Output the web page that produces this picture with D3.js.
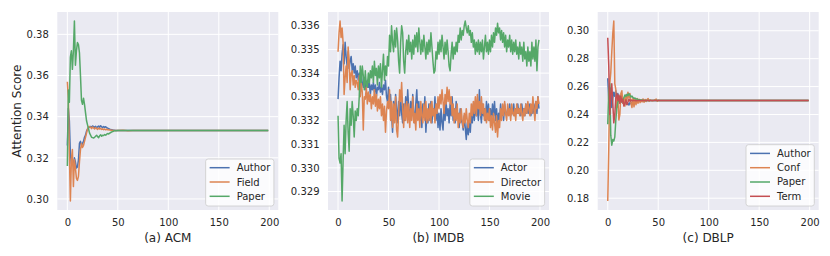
<!DOCTYPE html>
<html lang="en">
<head>
<meta charset="UTF-8"/>
<title>Attention Score per epoch</title>
<script src="https://d3js.org/d3.v7.min.js"></script>
<style>
	body { margin: 0; background: #ffffff; }
	text { font-family: "DejaVu Sans", sans-serif; fill: #262626; }
</style>
</head>
<body>
<script>
// ***Data*** (epoch, attention score)
var xTicks = [0, 50, 100, 150, 200];
var lastEpoch = 199;

// (a) ACM
var acmNames = ["Author", "Field", "Paper"];
var acmYTicks = [0.30, 0.32, 0.34, 0.36, 0.38];
var acmAuthor = [[0,0.326],[1,0.344],[2,0.338],[3,0.322],[4,0.317],[5,0.319],[6,0.316],[7,0.320],[8,0.318],[9,0.315],
	[10,0.3155],[11,0.319],[12,0.327],[13,0.328],[14,0.326],[15,0.327],[16,0.328],[17,0.330],[18,0.331],[19,0.333],
	[20,0.334],[21,0.3345],[22,0.335],[23,0.3352],[24,0.3348],[25,0.3355],[26,0.3352],[27,0.3348],[28,0.3353],[29,0.3346],
	[30,0.3351],[31,0.3354],[32,0.3349],[33,0.3356],[34,0.3350],[35,0.3347],[36,0.3352],[37,0.3348],[38,0.3351],[39,0.3346],
	[40,0.3344],[41,0.3341],[42,0.3339],[43,0.3338],[44,0.3336],[45,0.3335],[46,0.3334],[47,0.3334],[48,0.3333],[50,0.3333],[199,0.3333]];
var acmField = [[0,0.357],[1,0.349],[2,0.322],[3,0.299],[4,0.319],[5,0.324],[6,0.306],[7,0.319],[8,0.315],[9,0.310],
	[10,0.309],[11,0.311],[12,0.318],[13,0.324],[14,0.327],[15,0.325],[16,0.326],[17,0.328],[18,0.330],[19,0.332],
	[20,0.334],[21,0.335],[22,0.3352],[23,0.3348],[24,0.3342],[25,0.3350],[26,0.3345],[27,0.3340],[28,0.3347],[29,0.3342],
	[30,0.3338],[31,0.3345],[32,0.3340],[33,0.3343],[34,0.3338],[35,0.3341],[36,0.3337],[37,0.3340],[38,0.3336],[39,0.3339],
	[40,0.3336],[42,0.3335],[44,0.3334],[46,0.3333],[50,0.3333],[55,0.3334],[60,0.3332],[65,0.3333],[199,0.3333]];
var acmPaper = [[0,0.316],[1,0.353],[2,0.347],[3,0.369],[4,0.372],[5,0.363],[6,0.372],[7,0.3865],[8,0.365],[9,0.372],
	[10,0.376],[11,0.375],[12,0.371],[13,0.360],[14,0.348],[15,0.346],[16,0.349],[17,0.346],[18,0.342],[19,0.338],
	[20,0.336],[21,0.334],[22,0.332],[23,0.331],[24,0.330],[25,0.3298],[26,0.3296],[27,0.3300],[28,0.3305],[29,0.3310],
	[30,0.3303],[31,0.3298],[32,0.3307],[33,0.3312],[34,0.3305],[35,0.3310],[36,0.3308],[37,0.3313],[38,0.3310],[39,0.3315],
	[40,0.3318],[41,0.3316],[42,0.3320],[43,0.3323],[44,0.3326],[45,0.3328],[46,0.3330],[47,0.3331],[48,0.3332],[50,0.3333],[199,0.3333]];

// (b) IMDB, one value per epoch 0..199
var imdbNames = ["Actor", "Director", "Movie"];
var imdbYTicks = [0.329, 0.330, 0.331, 0.332, 0.333, 0.334, 0.335, 0.336];
var imdbActor = [
	0.3329,0.3338,0.3345,0.3341,0.3348,0.3352,0.3344,0.3353,0.3347,0.3343,
	0.3349,0.3342,0.3345,0.3347,0.3341,0.3344,0.3340,0.3343,0.3338,0.3341,
	0.3337,0.3340,0.3335,0.3339,0.3336,0.3334,0.3338,0.3333,0.3336,0.3337,
	0.3334,0.3336,0.3331,0.3335,0.3333,0.3336,0.3332,0.3335,0.3330,0.3334,
	0.3333,0.3336,0.3332,0.3334,0.3331,0.3335,0.3333,0.3337,0.3330,0.3328,
	0.3334,0.3327,0.3331,0.3323,0.3315,0.3328,0.3320,0.3331,0.3325,0.3319,
	0.3328,0.3322,0.3330,0.3323,0.3319,0.3327,0.3320,0.3330,0.3323,0.3333,
	0.3325,0.3320,0.3328,0.3322,0.3331,0.3323,0.3319,0.3327,0.3333,0.3322,
	0.3328,0.3320,0.3325,0.3317,0.3327,0.3322,0.3330,0.3315,0.3323,0.3319,
	0.3327,0.3320,0.3328,0.3319,0.3325,0.3322,0.3330,0.3320,0.3327,0.3317,
	0.3323,0.3316,0.3325,0.3319,0.3316,0.3327,0.3320,0.3328,0.3322,0.3325,
	0.3319,0.3327,0.3322,0.3330,0.3320,0.3325,0.3319,0.3328,0.3322,0.3323,
	0.3317,0.3325,0.3320,0.3319,0.3316,0.3322,0.3317,0.3312,0.3319,0.3314,
	0.3320,0.3315,0.3323,0.3319,0.3327,0.3320,0.3328,0.3322,0.3325,0.3320,
	0.3333,0.3323,0.3319,0.3327,0.3322,0.3325,0.3320,0.3328,0.3322,0.3327,
	0.3320,0.3325,0.3319,0.3327,0.3322,0.3328,0.3320,0.3325,0.3317,0.3323,
	0.3320,0.3327,0.3322,0.3325,0.3320,0.3327,0.3323,0.3322,0.3325,0.3323,
	0.3327,0.3322,0.3325,0.3323,0.3327,0.3322,0.3325,0.3323,0.3327,0.3323,
	0.3325,0.3322,0.3327,0.3323,0.3325,0.3322,0.3327,0.3323,0.3325,0.3323,
	0.3327,0.3322,0.3325,0.3323,0.3327,0.3322,0.3328,0.3323,0.3330,0.3325];
var imdbDirector = [
	0.3349,0.3357,0.3362,0.3355,0.3359,0.3353,0.3331,0.3338,0.3343,0.3336,
	0.3351,0.3345,0.3333,0.3340,0.3341,0.3335,0.3339,0.3334,0.3337,0.3336,
	0.3333,0.3339,0.3330,0.3336,0.3332,0.3316,0.3330,0.3329,0.3334,0.3327,
	0.3332,0.3328,0.3331,0.3325,0.3330,0.3327,0.3333,0.3326,0.3331,0.3324,
	0.3329,0.3325,0.3330,0.3322,0.3327,0.3320,0.3326,0.3315,0.3324,0.3328,
	0.3325,0.3333,0.3320,0.3328,0.3317,0.3327,0.3319,0.3330,0.3316,0.3313,
	0.3323,0.3333,0.3328,0.3336,0.3325,0.3317,0.3327,0.3320,0.3328,0.3319,
	0.3327,0.3317,0.3325,0.3320,0.3330,0.3319,0.3323,0.3316,0.3327,0.3320,
	0.3325,0.3317,0.3328,0.3322,0.3319,0.3327,0.3320,0.3328,0.3319,0.3325,
	0.3320,0.3327,0.3319,0.3328,0.3322,0.3325,0.3319,0.3327,0.3323,0.3330,
	0.3325,0.3331,0.3327,0.3333,0.3328,0.3323,0.3331,0.3327,0.3334,0.3328,
	0.3333,0.3327,0.3330,0.3322,0.3327,0.3319,0.3325,0.3320,0.3327,0.3317,
	0.3323,0.3319,0.3325,0.3320,0.3317,0.3323,0.3319,0.3325,0.3320,0.3317,
	0.3323,0.3319,0.3327,0.3322,0.3328,0.3323,0.3330,0.3322,0.3331,0.3325,
	0.3328,0.3322,0.3330,0.3323,0.3327,0.3320,0.3325,0.3319,0.3323,0.3320,
	0.3325,0.3317,0.3322,0.3316,0.3323,0.3319,0.3315,0.3322,0.3313,0.3320,
	0.3317,0.3325,0.3320,0.3327,0.3322,0.3328,0.3323,0.3320,0.3327,0.3322,
	0.3325,0.3320,0.3327,0.3323,0.3322,0.3325,0.3320,0.3327,0.3323,0.3325,
	0.3322,0.3327,0.3323,0.3320,0.3325,0.3322,0.3327,0.3323,0.3328,0.3325,
	0.3322,0.3327,0.3323,0.3330,0.3325,0.3320,0.3328,0.3325,0.3330,0.3327];
var imdbMovie = [
	0.3322,0.3304,0.3302,0.3306,0.3286,0.3303,0.3318,0.3306,0.3320,0.3328,
	0.3315,0.3307,0.3325,0.3318,0.3328,0.3322,0.3313,0.3324,0.3320,0.3325,
	0.3322,0.3330,0.3343,0.3336,0.3343,0.3339,0.3333,0.3341,0.3335,0.3334,
	0.3340,0.3336,0.3341,0.3338,0.3343,0.3336,0.3345,0.3339,0.3342,0.3335,
	0.3343,0.3338,0.3344,0.3334,0.3341,0.3348,0.3337,0.3343,0.3339,0.3347,
	0.3343,0.3356,0.3349,0.3360,0.3353,0.3349,0.3358,0.3351,0.3359,0.3354,
	0.3345,0.3340,0.3353,0.3360,0.3357,0.3345,0.3340,0.3349,0.3354,0.3348,
	0.3356,0.3349,0.3353,0.3346,0.3354,0.3348,0.3356,0.3351,0.3357,0.3349,
	0.3359,0.3353,0.3348,0.3354,0.3349,0.3356,0.3351,0.3346,0.3353,0.3348,
	0.3354,0.3349,0.3357,0.3351,0.3345,0.3340,0.3341,0.3349,0.3346,0.3353,
	0.3348,0.3354,0.3349,0.3356,0.3351,0.3346,0.3353,0.3348,0.3354,0.3349,
	0.3343,0.3341,0.3348,0.3353,0.3346,0.3351,0.3348,0.3353,0.3349,0.3356,
	0.3353,0.3359,0.3354,0.3358,0.3356,0.3360,0.3362,0.3359,0.3357,0.3360,
	0.3356,0.3358,0.3353,0.3357,0.3351,0.3354,0.3348,0.3353,0.3349,0.3354,
	0.3348,0.3353,0.3349,0.3354,0.3346,0.3351,0.3356,0.3349,0.3353,0.3348,
	0.3354,0.3349,0.3356,0.3351,0.3357,0.3353,0.3359,0.3356,0.3361,0.3357,
	0.3359,0.3354,0.3358,0.3353,0.3357,0.3351,0.3356,0.3349,0.3354,0.3351,
	0.3356,0.3349,0.3354,0.3348,0.3353,0.3349,0.3354,0.3348,0.3351,0.3346,
	0.3353,0.3348,0.3351,0.3345,0.3353,0.3346,0.3349,0.3343,0.3351,0.3345,
	0.3349,0.3343,0.3353,0.3346,0.3351,0.3345,0.3354,0.3341,0.3351,0.3354];

// (c) DBLP
var dblpNames = ["Author", "Conf", "Paper", "Term"];
var dblpYTicks = [0.18, 0.20, 0.22, 0.24, 0.26, 0.28, 0.30];
var dblpAuthor = [[0,0.266],[1,0.250],[2,0.255],[3,0.259],[4,0.245],[5,0.252],[6,0.256],[7,0.253],[8,0.257],[9,0.252],
	[10,0.255],[11,0.251],[12,0.253],[13,0.249],[14,0.2505],[15,0.248],[16,0.2485],[17,0.2475],[18,0.249],[19,0.2472],
	[20,0.248],[21,0.2468],[22,0.2485],[23,0.2478],[24,0.2488],[25,0.2482],[26,0.2492],[27,0.2488],[28,0.2494],[30,0.2496],
	[32,0.2498],[35,0.2499],[40,0.25],[199,0.25]];
var dblpConf = [[0,0.178],[1,0.215],[2,0.262],[3,0.270],[4,0.285],[5,0.298],[6,0.307],[7,0.262],[8,0.258],[9,0.245],
	[10,0.252],[11,0.236],[12,0.240],[13,0.255],[14,0.257],[15,0.248],[16,0.252],[17,0.246],[18,0.254],[19,0.250],
	[20,0.256],[21,0.252],[22,0.255],[23,0.248],[24,0.245],[25,0.252],[26,0.2455],[27,0.251],[28,0.247],[29,0.2515],
	[30,0.248],[31,0.251],[32,0.2485],[33,0.2505],[34,0.249],[35,0.2512],[36,0.2488],[37,0.2508],[38,0.2493],[39,0.2507],
	[40,0.2515],[41,0.2495],[42,0.2505],[44,0.2498],[46,0.2502],[48,0.251],[49,0.2495],[50,0.2502],[52,0.25],[199,0.25]];
var dblpPaper = [[0,0.233],[1,0.258],[2,0.262],[3,0.225],[4,0.218],[5,0.222],[6,0.221],[7,0.224],[8,0.236],[9,0.245],
	[10,0.249],[11,0.250],[12,0.253],[13,0.251],[14,0.249],[15,0.2505],[16,0.252],[17,0.254],[18,0.253],[19,0.2545],
	[20,0.2535],[21,0.255],[22,0.2538],[23,0.2525],[24,0.2532],[25,0.2522],[26,0.2515],[27,0.2518],[28,0.251],[29,0.2512],
	[30,0.2508],[32,0.2505],[34,0.2503],[36,0.2501],[40,0.25],[199,0.25]];
var dblpTerm = [[0,0.295],[1,0.275],[2,0.240],[3,0.255],[4,0.262],[5,0.248],[6,0.234],[7,0.240],[8,0.252],[9,0.255],
	[10,0.250],[11,0.254],[12,0.248],[13,0.253],[14,0.249],[15,0.251],[16,0.246],[17,0.248],[18,0.2505],[19,0.247],
	[20,0.249],[21,0.251],[22,0.2495],[23,0.2505],[24,0.2498],[26,0.2502],[28,0.2499],[30,0.2501],[35,0.25],[199,0.25]];

// ***Layout***
var w = 830;
var h = 256;
var plotTop = 12;
var plotW = 221;
var plotH = 198;
var colors = ["#4C72B0", "#DD8452", "#55A868", "#C44E52"];

// turn per-epoch value arrays into [epoch, value] pairs
function byEpoch(values) {
	return values.map(function(v, i) { return [i, v]; });
}

var panels = [
	{ left: 57.3, title: "(a) ACM", names: acmNames, yTicks: acmYTicks, fmt: ".2f",
	  series: [acmAuthor, acmField, acmPaper] },
	{ left: 328, title: "(b) IMDB", names: imdbNames, yTicks: imdbYTicks, fmt: ".3f",
	  series: [byEpoch(imdbActor), byEpoch(imdbDirector), byEpoch(imdbMovie)] },
	{ left: 597.7, title: "(c) DBLP", names: dblpNames, yTicks: dblpYTicks, fmt: ".2f",
	  series: [dblpAuthor, dblpConf, dblpPaper, dblpTerm] }
];

var svg = d3.select("body")
	.append("svg")
	.attr("width", w)
	.attr("height", h);

// matplotlib-style 5% margins
function padded(lo, hi) {
	var m = (hi - lo) * 0.05;
	return [lo - m, hi + m];
}

panels.forEach(function(p) {
	var g = svg.append("g").attr("transform", "translate(" + p.left + "," + plotTop + ")");

	var xScale = d3.scaleLinear()
		.domain(padded(0, lastEpoch))
		.range([0, plotW]);

	var all = d3.merge(p.series);
	var yScale = d3.scaleLinear()
		.domain(padded(d3.min(all, function(d) { return d[1]; }), d3.max(all, function(d) { return d[1]; })))
		.range([plotH, 0]);

	g.append("rect")
		.attr("width", plotW)
		.attr("height", plotH)
		.attr("fill", "#EAEAF2");

	// grid
	g.selectAll(".gx")
		.data(xTicks)
		.enter()
		.append("line")
		.attr("x1", function(d) { return xScale(d); })
		.attr("x2", function(d) { return xScale(d); })
		.attr("y1", 0)
		.attr("y2", plotH)
		.attr("stroke", "#ffffff")
		.attr("stroke-width", 1);

	g.selectAll(".gy")
		.data(p.yTicks)
		.enter()
		.append("line")
		.attr("x1", 0)
		.attr("x2", plotW)
		.attr("y1", function(d) { return yScale(d); })
		.attr("y2", function(d) { return yScale(d); })
		.attr("stroke", "#ffffff")
		.attr("stroke-width", 1);

	// axes without domain lines or tick marks
	var xAxis = d3.axisBottom(xScale).tickValues(xTicks).tickSize(0).tickPadding(8.5);
	var yAxis = d3.axisLeft(yScale).tickValues(p.yTicks).tickSize(0).tickPadding(8.5).tickFormat(d3.format(p.fmt));

	var gx = g.append("g").attr("transform", "translate(0," + plotH + ")").call(xAxis);
	var gy = g.append("g").call(yAxis);
	[gx, gy].forEach(function(a) {
		a.select(".domain").remove();
		a.selectAll("text")
			.attr("font-family", "DejaVu Sans")
			.attr("font-size", 10)
			.attr("fill", "#262626");
	});

	// lines
	var line = d3.line()
		.x(function(d) { return xScale(d[0]); })
		.y(function(d) { return yScale(d[1]); });

	g.selectAll(".series")
		.data(p.series)
		.enter()
		.append("path")
		.attr("d", line)
		.attr("fill", "none")
		.attr("stroke", function(d, i) { return colors[i]; })
		.attr("stroke-width", 1.5)
		.attr("stroke-linejoin", "round");

	// title under the axis
	g.append("text")
		.attr("x", plotW / 2)
		.attr("y", 230)
		.attr("text-anchor", "middle")
		.attr("font-size", 12)
		.text(p.title);

	// legend, lower right
	var rowH = 14.3;
	var legH = 18.4 + rowH * (p.names.length - 1);
	var leg = g.append("g");
	var box = leg.append("rect")
		.attr("rx", 2.5)
		.attr("fill", "#ffffff")
		.attr("fill-opacity", 0.8)
		.attr("stroke", "#cccccc")
		.attr("stroke-width", 0.8);

	var labels = leg.selectAll(".lab")
		.data(p.names)
		.enter()
		.append("text")
		.attr("x", 31)
		.attr("y", function(d, i) { return 8.7 + i * rowH; })
		.attr("dy", "0.35em")
		.attr("font-size", 10)
		.text(function(d) { return d; });

	leg.selectAll(".sw")
		.data(p.names)
		.enter()
		.append("line")
		.attr("x1", 4)
		.attr("x2", 24)
		.attr("y1", function(d, i) { return 8.7 + i * rowH; })
		.attr("y2", function(d, i) { return 8.7 + i * rowH; })
		.attr("stroke", function(d, i) { return colors[i]; })
		.attr("stroke-width", 1.5);

	var maxW = d3.max(labels.nodes(), function(n) { return n.getComputedTextLength(); });
	var legW = 31 + maxW + 3.6;
	box.attr("width", legW).attr("height", legH);
	leg.attr("transform", "translate(" + (plotW - 4.4 - legW) + "," + (plotH - 4 - legH) + ")");
});

// shared y label
svg.append("text")
	.attr("transform", "translate(21," + (plotTop + plotH / 2) + ") rotate(-90)")
	.attr("text-anchor", "middle")
	.attr("font-size", 12)
	.text("Attention Score");
</script>
</body>
</html>
